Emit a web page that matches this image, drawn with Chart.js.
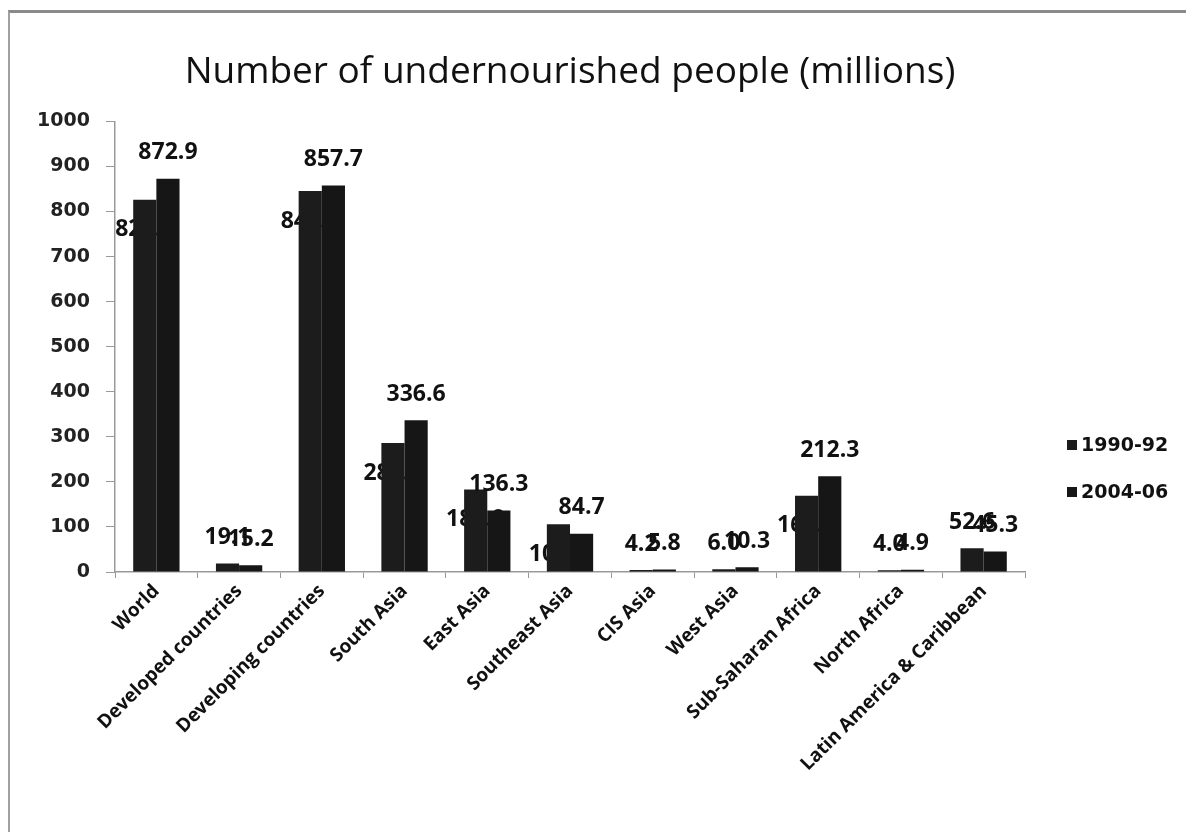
<!DOCTYPE html>
<html>
<head>
<meta charset="utf-8">
<title>Number of undernourished people</title>
<script src="https://cdn.jsdelivr.net/npm/chart.js@4.4.0/dist/chart.umd.min.js"></script>
<style>
html, body { margin: 0; padding: 0; background: #fff; }
#wrap { position: relative; width: 1186px; height: 832px; overflow: hidden; }
#frame { position: absolute; left: 8px; top: 10px; right: -6px; bottom: -6px; border-top: 3px solid #8a8a8a; border-left: 2px solid #a0a0a0; pointer-events: none; }
canvas { position: absolute; left: 0; top: 0; }
</style>
</head>
<body>
<div id="wrap">
  <canvas id="barChart" width="1186" height="832"></canvas>
  <div id="frame"></div>
</div>
<script>
var regions = ['World', 'Developed countries', 'Developing countries', 'South Asia', 'East Asia',
    'Southeast Asia', 'CIS Asia', 'West Asia', 'Sub-Saharan Africa', 'North Africa',
    'Latin America & Caribbean'];
var periods = ['1990-92', '2004-06'];
var values1990 = [826.2, 19.1, 845.3, 286.2, 182.9, 105.7, 4.2, 6.0, 169.0, 4.0, 52.6];
var values2004 = [872.9, 15.2, 857.7, 336.6, 136.3, 84.7, 5.8, 10.3, 212.3, 4.9, 45.3];
var yTicks = [0, 100, 200, 300, 400, 500, 600, 700, 800, 900, 1000];

var ctx = document.getElementById('barChart').getContext('2d');

// value labels: first period labels for big bars sit inside (drawn behind the bars)
function drawValues(chart, behind) {
    var c = chart.ctx;
    c.save();
    c.font = 'bold 23px "Open Sans"';
    c.fillStyle = '#111';
    c.textAlign = 'center';
    c.textBaseline = 'middle';
    chart.data.datasets.forEach(function(ds, di) {
        chart.getDatasetMeta(di).data.forEach(function(bar, i) {
            var v = ds.data[i];
            var inside = di === 0 && v >= 100;
            if (inside !== behind) return;
            var y = inside ? bar.y + 30 : bar.y - 26;
            c.fillText(v.toFixed(1), bar.x, y);
        });
    });
    c.restore();
}

var valuePlugin = {
    id: 'valuePlugin',
    beforeDatasetsDraw: function(chart) { drawValues(chart, true); },
    afterDatasetsDraw: function(chart) { drawValues(chart, false); }
};

// simple legend on the right, like the spreadsheet one
var sideLegend = {
    id: 'sideLegend',
    afterDraw: function(chart) {
        var c = chart.ctx;
        var x = chart.chartArea.right + 42;
        c.save();
        c.font = 'bold 19px "DejaVu Sans"';
        c.textBaseline = 'middle';
        chart.data.datasets.forEach(function(ds, i) {
            var y = 445 + i * 47;
            c.fillStyle = ds.backgroundColor;
            c.fillRect(x, y - 5, 10, 10);
            c.fillStyle = '#111';
            c.fillText(ds.label, x + 14, y + 1);
        });
        c.restore();
    }
};

var chart = new Chart(ctx, {
    type: 'bar',
    data: {
        labels: regions,
        datasets: [{
            label: periods[0],
            data: values1990,
            backgroundColor: '#1c1c1c',
            categoryPercentage: 0.56,
            barPercentage: 1.0
        }, {
            label: periods[1],
            data: values2004,
            backgroundColor: '#161616',
            categoryPercentage: 0.56,
            barPercentage: 1.0
        }]
    },
    options: {
        responsive: false,
        animation: false,
        layout: {
            padding: { left: 10, right: 161, top: 10, bottom: 0 }
        },
        plugins: {
            legend: { display: false },
            tooltip: { enabled: false },
            title: {
                display: true,
                fullSize: false,
                text: 'Number of undernourished people (millions)',
                color: '#111',
                font: { family: '"Open Sans"', size: 37, weight: 'normal', lineHeight: 1.2 },
                padding: { top: 40, bottom: 27 }
            }
        },
        scales: {
            x: {
                grid: {
                    offset: true,
                    drawOnChartArea: false,
                    drawTicks: true,
                    tickLength: 6,
                    color: '#999'
                },
                border: { display: true, color: '#999', width: 1.5 },
                ticks: {
                    minRotation: 45,
                    maxRotation: 45,
                    autoSkip: false,
                    padding: 2,
                    color: '#111',
                    font: { family: '"Open Sans"', size: 19, weight: 'bold' }
                },
                afterFit: function(scale) { scale.height = 260; }
            },
            y: {
                min: 0,
                max: 1000,
                afterBuildTicks: function(scale) {
                    scale.ticks = yTicks.map(function(v) { return { value: v }; });
                },
                grid: {
                    drawOnChartArea: false,
                    drawTicks: true,
                    tickLength: 9,
                    color: '#999'
                },
                border: { display: true, color: '#999', width: 1.5 },
                ticks: {
                    padding: 16,
                    color: '#222',
                    font: { family: '"DejaVu Sans"', size: 19, weight: 'bold' },
                    callback: function(value) { return String(value); }
                },
                afterFit: function(scale) { scale.width = 105; }
            }
        }
    },
    plugins: [valuePlugin, sideLegend]
});
</script>
</body>
</html>
